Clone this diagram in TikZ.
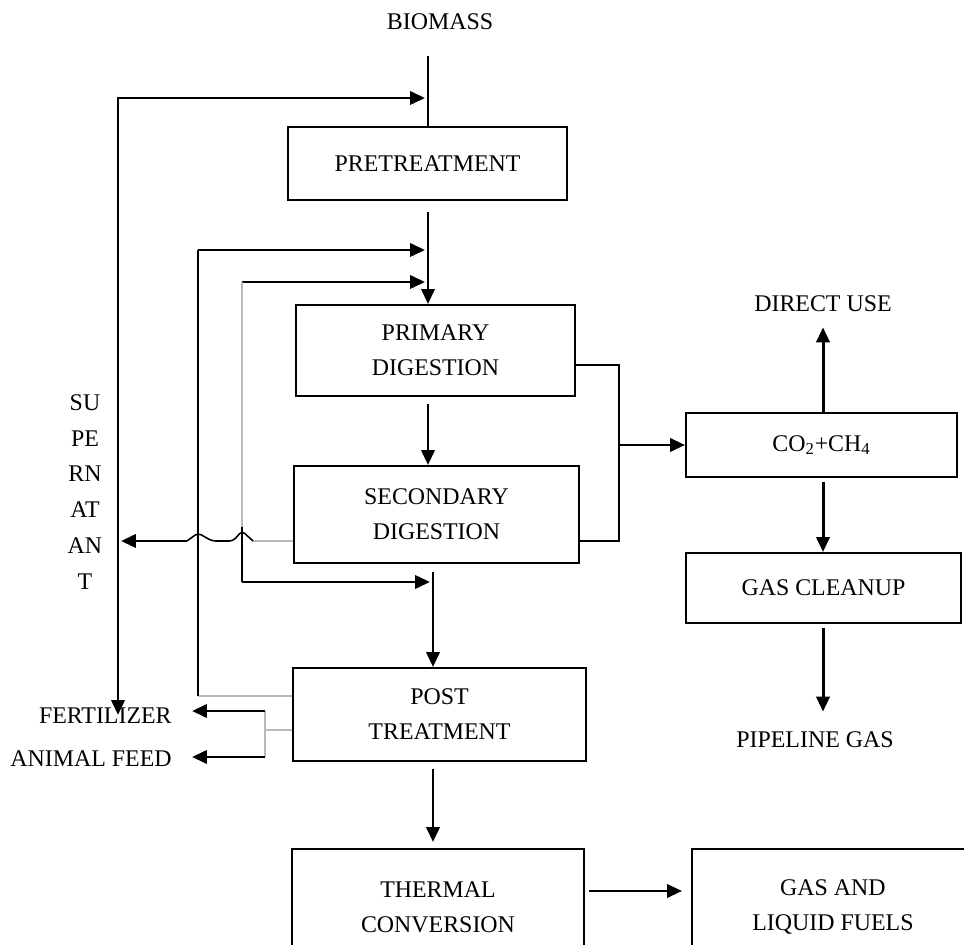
\documentclass[tikz,border=0pt]{standalone}
\usepackage{fontspec}
\setmainfont{Liberation Serif}
\usetikzlibrary{arrows.meta,calc}

\newcommand{\diagfont}{\fontsize{13.6}{19.9}\selectfont}

\tikzset{
  box/.style={draw, line width=1.1pt, inner sep=0pt, align=center, font=\diagfont},
  lbl/.style={inner sep=0pt, align=center, font=\diagfont},
  flow/.style={line width=1.7pt, -{Triangle[length=8.5pt,width=7.5pt]}},
  twoway/.style={line width=1.7pt, {Triangle[length=8.5pt,width=7.5pt]}-{Triangle[length=8.5pt,width=7.5pt]}},
  link/.style={line width=0.9pt},
  faint/.style={line width=0.8pt, gray!55},
}

\begin{document}
\begin{tikzpicture}[x=0.02cm,y=-0.02cm]

    \useasboundingbox (0,0) rectangle (964,945);
    \clip (0,0) rectangle (964,945);

    %main line
    \node[lbl] (biomass) at (440,22) {BIOMASS};
    \node[box, minimum width=5.58cm, minimum height=1.46cm] (pre) at (427.5,163.5) {PRETREATMENT};
    \node[box, minimum width=5.58cm, minimum height=1.82cm] (primary) at (435.5,350.5) {PRIMARY\\DIGESTION};
    \node[box, minimum width=5.7cm, minimum height=1.94cm] (secondary) at (436.5,514.5) {SECONDARY\\DIGESTION};
    \node[box, minimum width=5.86cm, minimum height=1.86cm] (post) at (439.5,714.5) {POST\\TREATMENT};
    \node[box, minimum width=5.84cm, minimum height=2.32cm] (thermal) at (438,907) {THERMAL\\CONVERSION};
    \node[box, minimum width=5.64cm, minimum height=2.32cm] (fuels) at (833,907) {GAS AND\\LIQUID FUELS};

    %gas side
    \node[box, minimum width=5.42cm, minimum height=1.28cm] (gas) at (821.5,445) {CO\textsubscript{2}+CH\textsubscript{4}};
    \node[box, minimum width=5.5cm, minimum height=1.4cm] (cleanup) at (823.5,588) {GAS CLEANUP};
    \node[lbl] (direct) at (823,304) {DIRECT USE};
    \node[lbl] (pipeline) at (815,740) {PIPELINE GAS};

    %left side products
    \node[lbl, font=\fontsize{13.6}{20.4}\selectfont] (super) at (85,492) {SU\\PE\\RN\\AT\\AN\\T};
    \node[lbl, anchor=east] (fert) at (172,716) {FERTILIZER};
    \node[lbl, anchor=east] (feed) at (172,759) {ANIMAL FEED};

    \coordinate (bio) at (428,56);
    \coordinate (spine) at (433,0);
    \coordinate (loopfoot) at (118,715);
    \coordinate (loophead) at (425,98);
    \coordinate (ret1) at (198,250);
    \coordinate (ret2) at (242,282);
    \coordinate (ret3) at (242,582);
    \coordinate (split) at (265,730);
    \coordinate (gather) at (619,443);

    \draw[line width=1.7pt] (bio) -- (bio |- pre.north);
    \draw[twoway] (loopfoot) |- (loophead);
    \draw[flow] ($(pre.south -| bio)+(0,11)$) -- (primary.north -| bio);

    %recycle from post treatment
    \draw[faint] (post.west |- 0,696) -- (198,696);
    \draw[link] (198,696) -- (ret1);
    \draw[flow] (ret1) -- ($(ret1 -| bio)+(-3,0)$);

    \draw[flow] (ret2) -- ($(ret2 -| bio)+(-3,0)$);
    \draw[faint] (ret2) -- (242,527);
    \draw[link] (242,527) -- (ret3);
    \draw[flow] (ret3) -- ($(ret3 -| spine)+(-3,0)$);

    \draw[flow] ($(primary.south -| bio)+(0,7)$) -- (secondary.north -| bio);
    \draw[flow] ($(secondary.south -| spine)+(0,8)$) -- (post.north -| spine);
    \draw[flow] ($(post.south -| spine)+(0,7)$) -- ($(thermal.north -| spine)+(0,-6)$);
    \draw[flow] ($(thermal.east |- 0,891)+(4,0)$) -- ($(fuels.west |- 0,891)+(-9,0)$);

    %supernatant with jumps
    \draw[faint] (secondary.west |- 0,541) -- (253,541);
    \draw[link, rounded corners=2pt] (253,541) -- (242,531) -- (233,541) -- (212,541) -- (198,533) -- (187,541);
    \draw[flow] (187,541) -- ($(loopfoot |- 0,541)+(3,0)$);

    %fertilizer and feed
    \draw[faint] (post.west |- split) -- (split);
    \draw[faint] (265,711) -- (265,757);
    \draw[flow] (265,711) -- ($(fert.east |- 0,711)+(20,0)$);
    \draw[flow] (265,757) -- ($(feed.east |- 0,757)+(20,0)$);

    %biogas
    \draw[link] (primary.east |- 0,365) -| (619,541) -- (secondary.east |- 0,541);
    \draw[flow] (gas.west -| gather) -- (gas.west);
    \draw[flow] (gas.north -| direct) -- ($(direct.south)+(0,15)$);
    \draw[flow] ($(gas.south -| direct)+(0,4)$) -- (cleanup.north -| direct);
    \draw[flow] ($(cleanup.south -| direct)+(0,4)$) -- ($(pipeline.north -| direct)+(0,-20)$);

\end{tikzpicture}
\end{document}
